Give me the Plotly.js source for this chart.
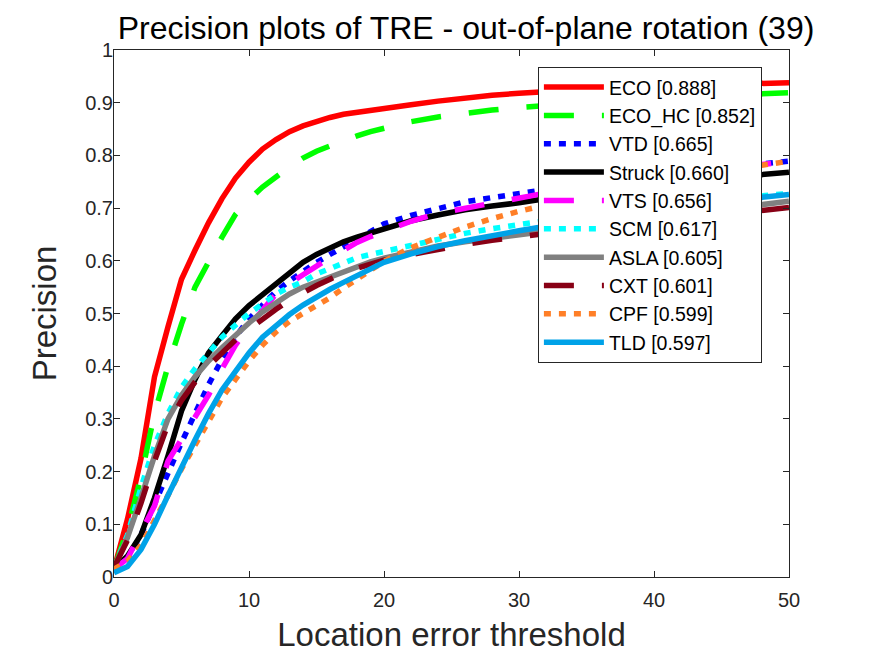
<!DOCTYPE html>
<html>
<head>
<meta charset="utf-8">
<script src="https://cdn.plot.ly/plotly-3.0.1.min.js"></script>
<style>html,body{margin:0;padding:0;background:#fff;}</style>
</head>
<body>
<div id="chart" style="width:875px;height:656px;"></div>
<script>
var thresholds = [0,1,2,3,4,5,6,7,8,9,10,11,12,13,14,15,16,17,18,19,20,22,24,26,28,30,33,36,40,45,50];

var names = ["ECO [0.888]","ECO_HC [0.852]","VTD [0.665]","Struck [0.660]","VTS [0.656]","SCM [0.617]","ASLA [0.605]","CXT [0.601]","CPF [0.599]","TLD [0.597]"];

var eco    = [0.015,0.11,0.225,0.38,0.475,0.565,0.62,0.672,0.718,0.757,0.787,0.812,0.83,0.845,0.856,0.865,0.872,0.878,0.882,0.885,0.888,0.896,0.903,0.909,0.914,0.918,0.923,0.927,0.931,0.935,0.938];
var ecoHc  = [0.015,0.09,0.19,0.31,0.4,0.48,0.55,0.6,0.645,0.688,0.716,0.74,0.76,0.778,0.795,0.808,0.818,0.828,0.837,0.845,0.852,0.864,0.873,0.88,0.886,0.891,0.897,0.902,0.908,0.914,0.919];
var vtd    = [0.015,0.035,0.08,0.14,0.195,0.255,0.31,0.365,0.413,0.455,0.49,0.517,0.542,0.562,0.58,0.597,0.612,0.627,0.643,0.658,0.67,0.686,0.7,0.712,0.72,0.728,0.74,0.75,0.763,0.777,0.789];
var struck = [0.015,0.04,0.08,0.15,0.23,0.315,0.375,0.425,0.458,0.49,0.515,0.535,0.556,0.578,0.597,0.612,0.624,0.636,0.645,0.653,0.66,0.676,0.687,0.697,0.704,0.71,0.722,0.732,0.744,0.757,0.768];
var vts    = [0.015,0.035,0.085,0.135,0.22,0.262,0.3,0.345,0.395,0.44,0.476,0.507,0.537,0.557,0.575,0.59,0.605,0.62,0.635,0.646,0.656,0.675,0.69,0.7,0.71,0.72,0.735,0.748,0.762,0.776,0.788];
var scm    = [0.018,0.08,0.17,0.25,0.31,0.36,0.395,0.425,0.455,0.478,0.5,0.518,0.537,0.55,0.56,0.575,0.585,0.597,0.606,0.612,0.618,0.63,0.641,0.652,0.661,0.669,0.68,0.69,0.703,0.716,0.728];
var asla   = [0.018,0.075,0.15,0.23,0.3,0.345,0.38,0.41,0.435,0.46,0.482,0.503,0.52,0.537,0.55,0.56,0.57,0.58,0.59,0.598,0.605,0.617,0.628,0.636,0.643,0.65,0.66,0.669,0.681,0.697,0.713];
var cxt    = [0.018,0.07,0.14,0.22,0.29,0.335,0.37,0.4,0.425,0.45,0.47,0.49,0.508,0.525,0.54,0.553,0.565,0.577,0.586,0.594,0.601,0.612,0.622,0.631,0.639,0.646,0.655,0.663,0.674,0.688,0.701];
var cpf    = [0.015,0.03,0.06,0.105,0.155,0.205,0.25,0.295,0.34,0.375,0.41,0.44,0.465,0.485,0.5,0.515,0.53,0.548,0.565,0.582,0.599,0.625,0.645,0.664,0.68,0.694,0.712,0.728,0.748,0.77,0.789];
var tld    = [0.008,0.02,0.052,0.1,0.155,0.21,0.26,0.31,0.355,0.39,0.425,0.455,0.478,0.498,0.516,0.532,0.546,0.559,0.572,0.585,0.597,0.613,0.627,0.638,0.648,0.657,0.67,0.682,0.697,0.712,0.726];

var xTickVals = [0,10,20,30,40,50];
var yTickVals = [0,0.1,0.2,0.3,0.4,0.5,0.6,0.7,0.8,0.9,1];

var seriesValues = [eco, ecoHc, vtd, struck, vts, scm, asla, cxt, cpf, tld];
var colors = ["#ff0000","#00ff00","#0000ff","#000000","#ff00ff","#00ffff","#808080","#880015","#ff7f27","#00a2e8"];
var dashes = ["solid","30px,28px","7px,8px","solid","30px,28px","7px,8px","solid","30px,28px","7px,8px","solid"];

var traces = seriesValues.map(function(v, i){
  return {
    x: thresholds, y: v, name: names[i], type: "scatter", mode: "lines",
    line: {color: colors[i], width: 5.5, dash: dashes[i]}
  };
});

var axisColor = "#262626";
var layout = {
  width: 875, height: 656,
  margin: {l: 114, r: 86, t: 50, b: 79},
  paper_bgcolor: "#ffffff", plot_bgcolor: "#ffffff",
  font: {family: "Liberation Sans, Arial, sans-serif", color: axisColor},
  title: {text: "Precision plots of TRE - out-of-plane rotation (39)", font: {size: 32, color: "#000000"}, x: 0.5326, xanchor: "center", y: 0.958, yanchor: "middle"},
  xaxis: {
    range: [0, 50], tickvals: xTickVals, ticks: "inside", ticklen: 6, tickcolor: axisColor,
    showline: true, linecolor: axisColor, linewidth: 1, mirror: "ticks", showgrid: false, zeroline: false,
    tickfont: {size: 20, color: axisColor}, ticklabelstandoff: 5,
    title: {text: "Location error threshold", font: {size: 33, color: axisColor}, standoff: 12}
  },
  yaxis: {
    range: [0, 1], tickvals: yTickVals, ticks: "inside", ticklen: 6, tickcolor: axisColor,
    showline: true, linecolor: axisColor, linewidth: 1, mirror: "ticks", showgrid: false, zeroline: false,
    tickfont: {size: 20, color: axisColor}, ticklabelstandoff: -4,
    title: {text: "Precision", font: {size: 33, color: axisColor}, standoff: 18}
  },
  legend: {
    x: 0.628, y: 0.968, xanchor: "left", yanchor: "top",
    bgcolor: "#ffffff", bordercolor: axisColor, borderwidth: 1,
    font: {size: 19.5, color: "#000000"}, itemwidth: 60, tracegroupgap: 0
  },
  showlegend: true
};

Plotly.newPlot("chart", traces, layout, {displayModeBar: false, staticPlot: true});
</script>
</body>
</html>
